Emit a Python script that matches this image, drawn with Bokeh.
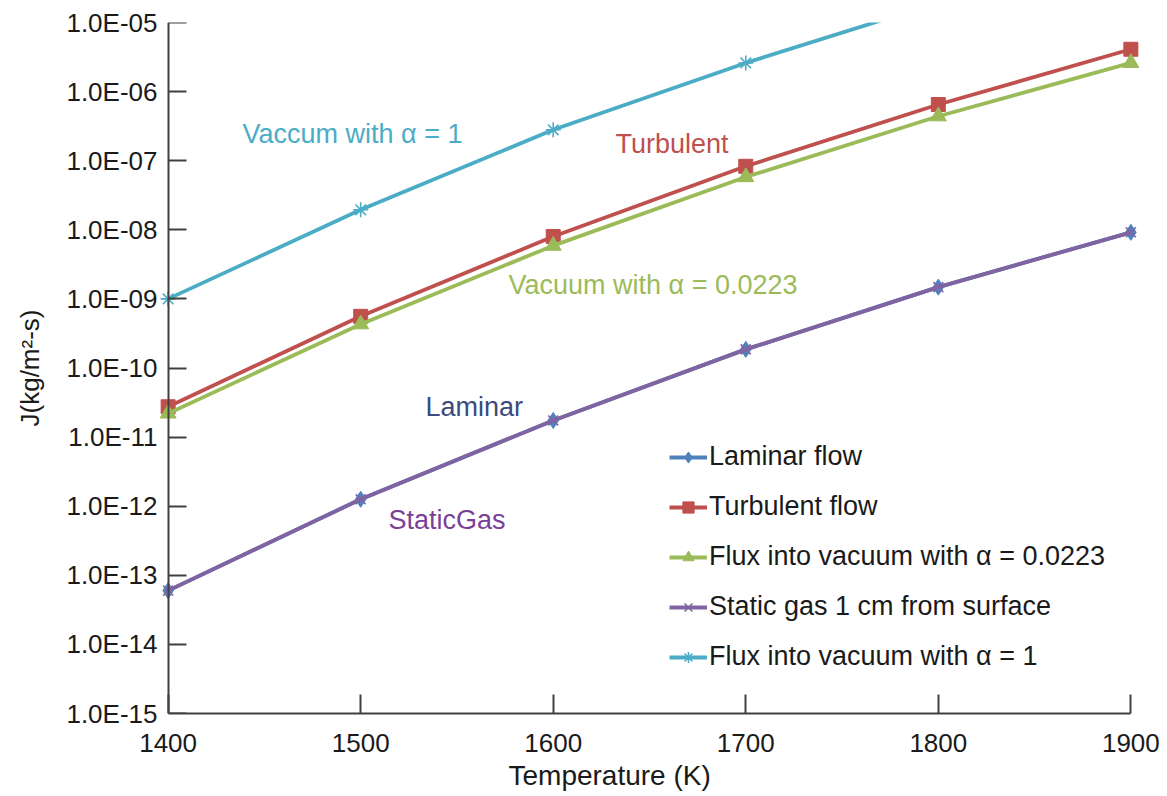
from bokeh.plotting import figure
from bokeh.models import (FixedTicker, CustomJSTickFormatter, Legend, LegendItem, Label,
                          Range1d, LogAxis, Title)
from bokeh.embed import file_html
from bokeh.resources import INLINE

# ---------------- data ----------------
temperature = [1400, 1500, 1600, 1700, 1800, 1900]
laminar = [6.0e-14, 1.26e-12, 1.74e-11, 1.86e-10, 1.48e-9, 9.2e-9]
turbulent = [2.75e-11, 5.6e-10, 8.0e-9, 8.3e-8, 6.5e-7, 4.1e-6]
vacuum_0223 = [2.2e-11, 4.3e-10, 5.9e-9, 5.8e-8, 4.4e-7, 2.6e-6]
static_gas = [6.0e-14, 1.26e-12, 1.74e-11, 1.86e-10, 1.48e-9, 9.2e-9]
vacuum_1 = [1.0e-9, 1.95e-8, 2.8e-7, 2.6e-6, 1.95e-5, 1.2e-4]

x_ticks = [1400, 1500, 1600, 1700, 1800, 1900]
y_exponents = [-15, -14, -13, -12, -11, -10, -9, -8, -7, -6, -5]
y_tick_labels = ["1.0E-15", "1.0E-14", "1.0E-13", "1.0E-12", "1.0E-11", "1.0E-10",
                 "1.0E-09", "1.0E-08", "1.0E-07", "1.0E-06", "1.0E-05"]
legend_labels = ["Laminar flow", "Turbulent flow", "Flux into vacuum with \u03b1 = 0.0223",
                 "Static gas 1 cm from surface", "Flux into vacuum with \u03b1 = 1"]

FONT = "Liberation Sans"
TXT = "#1a1a1a"
AX = "#404040"
BLUE = "#4F81BD"
RED = "#C0504D"
GREEN = "#9BBB59"
PURPLE = "#8064A2"
CYAN = "#4BACC6"

p = figure(width=1167, height=796, output_backend="svg", toolbar_location=None,
           y_axis_type="log",
           x_range=Range1d(1395, 1905), y_range=Range1d(1e-15, 1e-5),
           frame_width=982, frame_height=691,
           min_border_left=158, min_border_right=27, min_border_top=22, min_border_bottom=83)
p.background_fill_color = "white"
p.border_fill_color = "white"
p.outline_line_color = None
p.grid.visible = False

# x axis
xa = p.xaxis[0]
xa.ticker = FixedTicker(ticks=x_ticks)
xa.bounds = (1400, 1900)
xa.major_tick_in = 19
xa.major_tick_out = 0
xa.minor_tick_line_color = None
xa.axis_line_color = AX
xa.axis_line_width = 2
xa.major_tick_line_color = AX
xa.major_tick_line_width = 2
xa.major_label_text_font = FONT
xa.major_label_text_font_size = "26px"
xa.major_label_text_color = TXT
xa.major_label_standoff = 20
xa.axis_label = None

y_ticker = FixedTicker(ticks=[10.0 ** e for e in y_exponents])

# y axis: labels only (at frame edge)
ya = p.yaxis[0]
ya.ticker = y_ticker
ya.formatter = CustomJSTickFormatter(
    args=dict(labels=y_tick_labels, exps=y_exponents),
    code="const e = Math.round(Math.log10(tick)); const i = exps.indexOf(e); return i >= 0 ? labels[i] : '';")
ya.axis_line_color = None
ya.major_tick_line_color = None
ya.minor_tick_line_color = None
ya.major_tick_in = 0
ya.major_tick_out = 0
ya.major_label_text_font = FONT
ya.major_label_text_font_size = "26px"
ya.major_label_text_color = TXT
ya.major_label_standoff = 1
ya.axis_label = "J(kg/m\u00b2-s)"
ya.axis_label_text_font = FONT
ya.axis_label_text_font_size = "26px"
ya.axis_label_text_font_style = "normal"
ya.axis_label_text_color = TXT
ya.axis_label_standoff = 18

# y axis line + ticks at T = 1400 (its own labels hidden)
y_line = LogAxis(ticker=y_ticker, fixed_location=1400,
                 major_tick_in=18, major_tick_out=0,
                 major_label_text_color=None,
                 minor_tick_line_color=None,
                 axis_line_color=AX, axis_line_width=2,
                 major_tick_line_color=AX, major_tick_line_width=2)
p.add_layout(y_line, "left")

# series
LW = 3.8
r_cy_l = p.line(temperature, vacuum_1, line_color=CYAN, line_width=LW)
r_cy_m = p.scatter(temperature, vacuum_1, marker="asterisk", size=15, line_color=CYAN, line_width=1.6)

r_rd_l = p.line(temperature, turbulent, line_color=RED, line_width=LW)
r_rd_m = p.scatter(temperature, turbulent, marker="square", size=14, fill_color=RED, line_color=RED)

r_gr_l = p.line(temperature, vacuum_0223, line_color=GREEN, line_width=LW)
r_gr_m = p.scatter(temperature, vacuum_0223, marker="triangle", size=16, fill_color=GREEN, line_color=GREEN)

r_bl_l = p.line(temperature, laminar, line_color=BLUE, line_width=LW)
r_bl_m = p.scatter(temperature, laminar, marker="diamond", size=16, fill_color=BLUE, line_color=BLUE)

r_pu_l = p.line(temperature, static_gas, line_color=PURPLE, line_width=LW)
r_pu_m = p.scatter(temperature, static_gas, marker="x", size=14, line_color=PURPLE, line_width=1.6)

legend = Legend(items=[
    LegendItem(label=legend_labels[0], renderers=[r_bl_l, r_bl_m]),
    LegendItem(label=legend_labels[1], renderers=[r_rd_l, r_rd_m]),
    LegendItem(label=legend_labels[2], renderers=[r_gr_l, r_gr_m]),
    LegendItem(label=legend_labels[3], renderers=[r_pu_l, r_pu_m]),
    LegendItem(label=legend_labels[4], renderers=[r_cy_l, r_cy_m]),
], location=(511, 41))
legend.background_fill_alpha = 0
legend.border_line_color = None
legend.padding = 0
legend.margin = 0
legend.spacing = 19
legend.glyph_width = 38
legend.glyph_height = 28
legend.label_height = 28
legend.label_standoff = 2
legend.label_text_font = FONT
legend.label_text_font_size = "27px"
legend.label_text_color = TXT
p.add_layout(legend, "center")

# in-plot annotations (screen px relative to frame: x from left, y from bottom)
FL, FB = 158, 713
def note(text, px, py, color):
    p.add_layout(Label(x=px - FL, y=FB - py, x_units="screen", y_units="screen", text=text,
                       text_font=FONT, text_font_size="27px", text_color=color,
                       text_baseline="middle", text_align="left"))

note("Vaccum with \u03b1 = 1", 242, 133, CYAN)
note("Turbulent", 615, 143, RED)
note("Vacuum with \u03b1 = 0.0223", 508, 284, GREEN)
note("Laminar", 425, 406, "#3C4A7E")
note("StaticGas", 388, 519, "#7B3F98")

# x axis title
p.add_layout(Title(text="Temperature (K)", align="left", offset=508 - FL,
                   text_font=FONT, text_font_size="28px", text_font_style="normal",
                   text_color=TXT, standoff=6), "below")

open("out.html", "w").write(file_html(p, INLINE))
